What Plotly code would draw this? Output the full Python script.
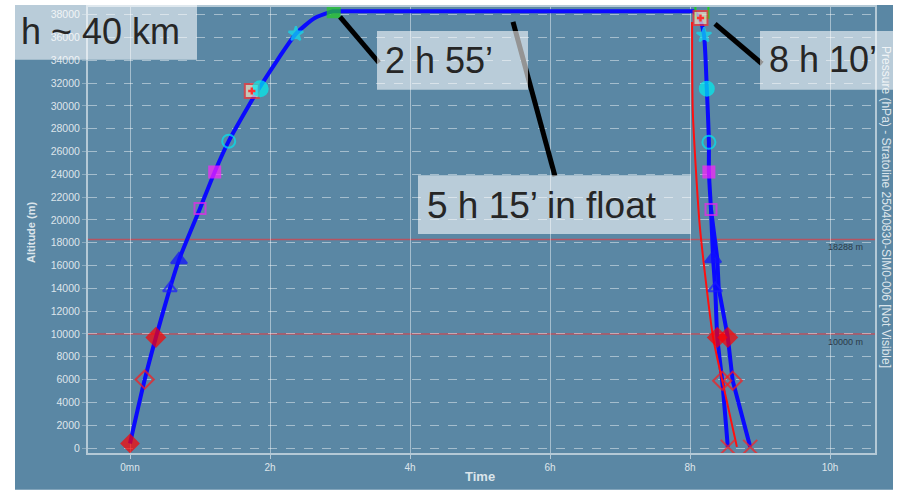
import plotly.graph_objects as go

# ---------------- data (time in hours, altitude in metres) ----------------
ascent_time = [0.0, 0.21, 0.37, 0.57, 0.70, 1.00, 1.21, 1.41, 1.83, 2.37, 2.64, 2.90]
ascent_alt = [400, 6000, 9700, 14000, 16500, 21000, 24200, 26900, 31400, 36300, 37700, 38300]

float_time = [2.90, 8.05]
float_alt = [38300, 38300]

descent_a_time = [8.05, 8.14, 8.20, 8.24, 8.27, 8.27, 8.30, 8.33, 8.36, 8.39, 8.46, 8.54]
descent_a_alt = [38300, 37600, 36200, 31500, 26800, 24200, 20900, 16600, 14000, 9700, 5900, 100]

descent_b_time = [8.30, 8.39, 8.41, 8.54, 8.61, 8.86]
descent_b_alt = [20900, 16600, 14000, 9700, 5900, 100]

descent_red_time = [8.03, 8.04, 8.14, 8.33, 8.46, 8.67]
descent_red_alt = [37350, 29500, 19460, 9690, 5930, 100]

# event markers along the ascent
asc_mk_time = [0.0, 0.21, 0.37, 0.57, 0.70, 1.00, 1.21, 1.41, 1.74, 1.86, 2.37, 2.91]
asc_mk_alt = [400, 6000, 9700, 14000, 16500, 21000, 24200, 26900, 31300, 31500, 36300, 38300]
asc_mk_symbol = ["diamond", "diamond-open", "diamond", "triangle-up-open", "triangle-up",
                 "square-open", "square", "circle-open", "square", "circle", "star", "square"]
asc_mk_color = ["#ff0000", "#ff1a1a", "#ff0000", "#1a1aff", "#1010ff",
                "#ee22ee", "#ff22ff", "#00e5f0", "#f3e3c3", "#00f0f0", "#10e0f0", "#22cc22"]
asc_mk_size = [13, 14, 14, 12, 14, 11, 11, 13, 14, 15, 11, 12]

# event markers along the descent (main branch)
dsc_mk_time = [8.15, 8.20, 8.24, 8.27, 8.27, 8.30, 8.33, 8.36, 8.39, 8.46, 8.54]
dsc_mk_alt = [37700, 36200, 31500, 26800, 24200, 20900, 16600, 14000, 9700, 5900, 100]
dsc_mk_symbol = ["square", "star", "circle", "circle-open", "square", "square-open",
                 "triangle-up", "triangle-up-open", "diamond", "diamond-open", "x-thin"]
dsc_mk_color = ["#f3e3c3", "#10e0f0", "#00f0f0", "#00e5f0", "#ff22ff", "#ee22ee",
                "#1010ff", "#1a1aff", "#ff0000", "#ff1a1a", "#ff2020"]
dsc_mk_size = [14, 11, 14, 13, 11, 11, 14, 12, 14, 14, 14]

# second descent branch markers
dsc_b_mk_time = [8.54, 8.61, 8.86]
dsc_b_mk_alt = [9700, 5900, 100]
dsc_b_mk_symbol = ["diamond", "diamond-open", "x-thin"]

ref_levels = [18288, 10000]
ref_labels = ["18288 m", "10000 m"]

x_tick_vals = [0, 2, 4, 6, 8, 10]
x_tick_text = ["0mn", "2h", "4h", "6h", "8h", "10h"]
y_tick_vals = list(range(0, 38001, 2000))
y_tick_text = [str(v) for v in y_tick_vals]

# ---------------- layout helpers ----------------
W, H = 913, 493
L, R, T, B = 88, 875, 5, 453          # plot area in pixels


def px(x):
    return (x - L) / (R - L)


def py(y):
    return (B - y) / (B - T)


BG = "#5a87a4"
GRID = "rgba(255,255,255,0.45)"
TXT = "#262626"
FONT = "Liberation Sans, Arial, sans-serif"
PALE = "rgba(255,255,255,0.8)"

fig = go.Figure()

# trajectories
fig.add_trace(go.Scatter(x=ascent_time + float_time + descent_a_time,
                         y=ascent_alt + float_alt + descent_a_alt,
                         mode="lines", line=dict(color="#0a0aff", width=4, shape="spline", smoothing=0.6),
                         hoverinfo="skip", showlegend=False))
fig.add_trace(go.Scatter(x=descent_b_time, y=descent_b_alt, mode="lines",
                         line=dict(color="#0a0aff", width=4), hoverinfo="skip", showlegend=False))
fig.add_trace(go.Scatter(x=descent_red_time, y=descent_red_alt, mode="lines",
                         line=dict(color="#ff1010", width=2, shape="spline", smoothing=0.6),
                         hoverinfo="skip", showlegend=False))

# markers
fig.add_trace(go.Scatter(x=[8.17], y=[38300], mode="markers",
                         marker=dict(symbol="square-open", size=13, color="#22cc22",
                                     line=dict(width=2, color="#22cc22")),
                         hoverinfo="skip", showlegend=False))
for xs, ys, syms, cols, sizes in [
    (asc_mk_time, asc_mk_alt, asc_mk_symbol, asc_mk_color, asc_mk_size),
    (dsc_mk_time, dsc_mk_alt, dsc_mk_symbol, dsc_mk_color, dsc_mk_size),
    (dsc_b_mk_time, dsc_b_mk_alt, dsc_b_mk_symbol, ["#ff0000", "#ff1a1a", "#ff2020"], [14, 14, 14]),
]:
    line_cols = [("#ff3030" if c == "#f3e3c3" else c) for c in cols]
    fig.add_trace(go.Scatter(x=xs, y=ys, mode="markers",
                             marker=dict(symbol=syms, color=cols, size=sizes,
                                         line=dict(width=2, color=line_cols)),
                             hoverinfo="skip", showlegend=False))
# red dots on the pale squares
fig.add_trace(go.Scatter(x=[1.74, 8.15], y=[31300, 37700], mode="markers",
                         marker=dict(symbol="cross", size=6, color="#ff3030"),
                         hoverinfo="skip", showlegend=False))

shapes = []
# panel background
shapes.append(dict(type="rect", xref="paper", yref="paper", layer="below",
                   x0=px(15), x1=px(893), y0=py(490), y1=py(3),
                   fillcolor=BG, line=dict(width=0)))
# reference altitude lines
for lvl in ref_levels:
    shapes.append(dict(type="line", xref="paper", yref="y", x0=0, x1=1, y0=lvl, y1=lvl,
                       layer="below", line=dict(color="rgba(205,70,80,0.8)", width=1.5)))
# pointer lines
for (x0, y0, x1, y1) in [(340, 15, 379, 61), (513, 20, 555, 175), (715, 22, 762, 62)]:
    shapes.append(dict(type="line", xref="paper", yref="paper", layer="above",
                       x0=px(x0), y0=py(y0), x1=px(x1), y1=py(y1),
                       line=dict(color="black", width=5)))
# translucent label boxes
for (x0, y0, x1, y1) in [(15, 3, 197, 58), (377, 29, 528, 88), (418, 174, 691, 233), (760, 29, 913, 88)]:
    shapes.append(dict(type="rect", xref="paper", yref="paper", layer="above",
                       x0=px(x0), y0=py(y1), x1=px(x1), y1=py(y0),
                       fillcolor="rgba(255,255,255,0.58)", line=dict(width=0)))

annotations = []
for text, x, y, size in [("h ~ 40 km", 19, 30, 36), ("2 h 55’", 383, 59, 36),
                         ("5 h 15’ in float", 425, 204, 37), ("8 h 10’", 767, 58, 36)]:
    annotations.append(dict(text=text, xref="paper", yref="paper", x=px(x), y=py(y),
                            xanchor="left", yanchor="middle", showarrow=False,
                            font=dict(family=FONT, size=size, color=TXT)))
for lbl, lvl in zip(ref_labels, ref_levels):
    annotations.append(dict(text=lbl, xref="paper", yref="y", x=px(845), y=lvl,
                            xanchor="center", yanchor="top", yshift=-1, showarrow=False,
                            font=dict(family=FONT, size=9, color="#2a3a48")))
annotations.append(dict(text="<b>Altitude (m)</b>", xref="paper", yref="paper", x=px(31), y=py(232),
                        textangle=-90, showarrow=False, xanchor="center", yanchor="middle",
                        font=dict(family=FONT, size=11, color=PALE)))
annotations.append(dict(text="<b>Time</b>", xref="paper", yref="paper", x=px(480), y=py(477),
                        showarrow=False, xanchor="center", yanchor="middle",
                        font=dict(family=FONT, size=13, color=PALE)))
annotations.append(dict(text="Pressure (hPa) - Stratoline 25040830-SIM0-006 [Not Visible]",
                        xref="paper", yref="paper", x=px(886), y=py(206),
                        textangle=90, showarrow=False, xanchor="center", yanchor="middle",
                        font=dict(family=FONT, size=12, color=PALE)))

fig.update_layout(
    width=W, height=H, autosize=False,
    margin=dict(l=L, r=W - R, t=T, b=H - B, pad=0),
    paper_bgcolor="white", plot_bgcolor="rgba(0,0,0,0)",
    shapes=shapes, annotations=annotations, showlegend=False,
    font=dict(family=FONT),
)
fig.update_xaxes(range=[(L - 130) / 70, (R - 130) / 70], tickvals=x_tick_vals, ticktext=x_tick_text,
                 showgrid=True, gridcolor=GRID, gridwidth=1, zeroline=False,
                 showline=True, linecolor="rgba(255,255,255,0.55)", linewidth=2, mirror=True,
                 ticks="outside", ticklen=4, tickcolor="rgba(255,255,255,0.55)",
                 tickfont=dict(size=10, color=PALE))
fig.update_yaxes(range=[-(B - 448) / 0.011458, (448 - T) / 0.011458],
                 tickvals=y_tick_vals, ticktext=y_tick_text,
                 showgrid=True, gridcolor=GRID, gridwidth=1, griddash="dash", zeroline=False,
                 showline=True, linecolor="rgba(255,255,255,0.55)", linewidth=2, mirror=True,
                 ticks="outside", ticklen=4, tickcolor="rgba(255,255,255,0.3)",
                 tickfont=dict(size=10.5, color=PALE))

fig.write_html("out.html")
